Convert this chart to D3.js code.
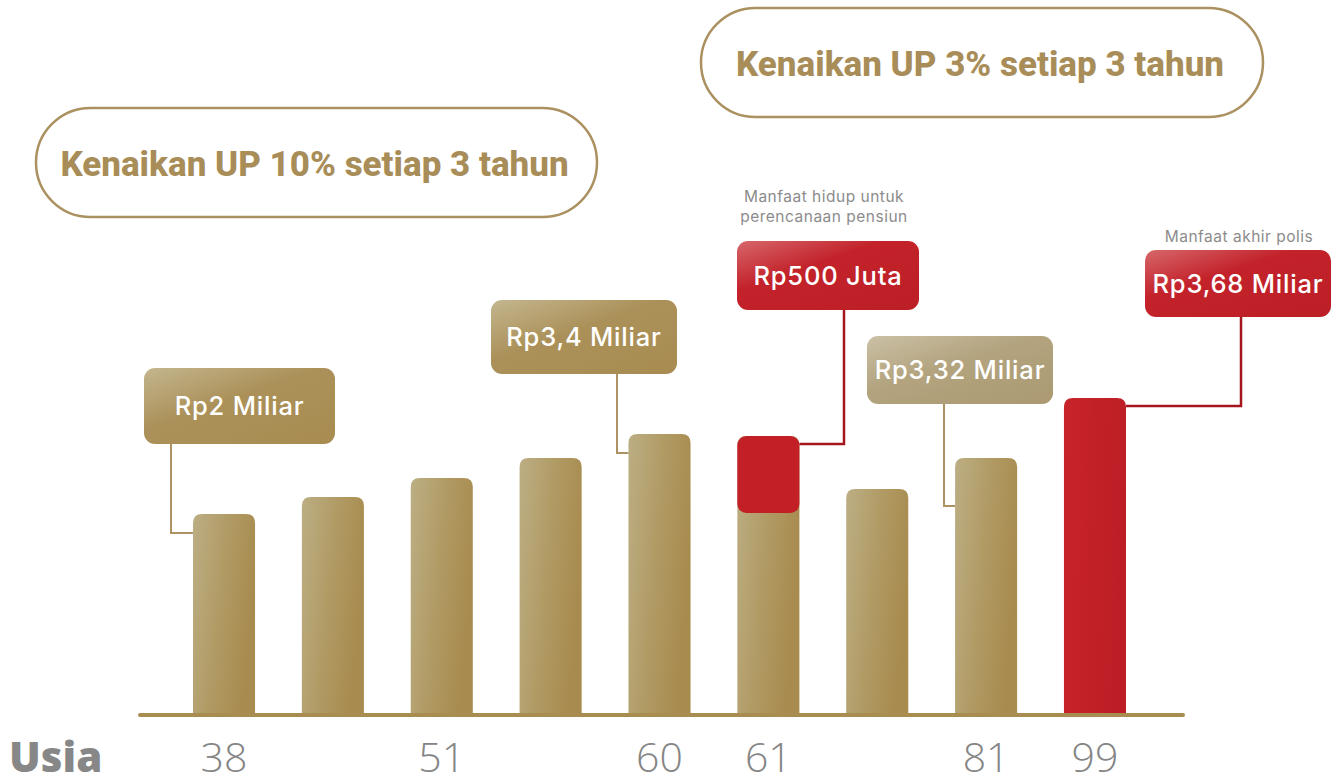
<!DOCTYPE html>
<html>
<head>
<meta charset="utf-8">
<script src="https://cdn.jsdelivr.net/npm/d3@7"></script>
<style>
  html, body { margin: 0; padding: 0; background: #fff; }
  svg { display: block; }
</style>
</head>
<body>
<svg id="chart"></svg>
<script>
// ages under the bars (blank = no label)
const ages = ['38', '', '51', '', '60', '61', '', '81', '99']
// bar heights, relative units
const barValues = [201, 218, 237, 257, 281, 279, 226, 257, 317]
const barColors = ['gold', 'gold', 'gold', 'gold', 'gold', 'gold', 'gold', 'gold', 'red']
// red payout block sitting on bar 6 (age 61)
const payoutBar = 5
const payoutLow = 202
const payoutHigh = 279

const calloutTexts = ['Rp2 Miliar', 'Rp3,4 Miliar', 'Rp500 Juta', 'Rp3,32 Miliar', 'Rp3,68 Miliar']
const calloutBars = [0, 4, 5, 7, 8]
const calloutStyles = ['gold', 'gold', 'red', 'pale', 'red']
const calloutCaptions = [[], [], ['Manfaat hidup untuk', 'perencanaan pensiun'], [], ['Manfaat akhir polis']]

const pillTexts = ['Kenaikan UP 10% setiap 3 tahun', 'Kenaikan UP 3% setiap 3 tahun']
const axisTitle = 'Usia'

const width = 1340,
    height = 783
const baseY = 715

let svg = d3.select('#chart').attr('width', width).attr('height', height)

let x = d3.scaleBand().domain(d3.range(barValues.length)).range([193, 1126]).paddingInner(0.43).paddingOuter(0)
let y = d3.scaleLinear().domain([0, 320]).range([baseY, baseY - 320])

// gradients
let defs = svg.append('defs')
function grad(id, stops, x2, y2) {
    let g = defs.append('linearGradient').attr('id', id)
        .attr('x1', 0).attr('y1', 0).attr('x2', x2).attr('y2', y2)
    stops.forEach(s => g.append('stop').attr('offset', s[0]).attr('stop-color', s[1]))
}
grad('barGold', [[0, '#bcae84'], [0.55, '#b09a63'], [1, '#a88b4f']], 1, 0.35)
grad('barRed', [[0, '#c8232a'], [1, '#bd1e25']], 1, 0.2)
grad('boxGold', [[0, '#c4b68f'], [0.45, '#ab9159'], [1, '#a88c52']], 0.9, 1)
grad('boxPale', [[0, '#cbc0a6'], [0.45, '#b3a47f'], [1, '#ab9a72']], 0.9, 1)
grad('boxRed', [[0, '#d6676a'], [0.4, '#c3222a'], [1, '#bd1f26']], 0.9, 1)

function topRounded(x0, y0, w, h, r) {
    return `M${x0},${y0 + h}V${y0 + r}Q${x0},${y0} ${x0 + r},${y0}H${x0 + w - r}Q${x0 + w},${y0} ${x0 + w},${y0 + r}V${y0 + h}Z`
}

// pills
const pillBoxes = [{ x: 36, y: 108, w: 561, h: 109 }, { x: 701, y: 8, w: 562, h: 109 }]
pillTexts.forEach((t, i) => {
    let b = pillBoxes[i]
    svg.append('rect')
        .attr('x', b.x).attr('y', b.y).attr('width', b.w).attr('height', b.h)
        .attr('rx', b.h / 2)
        .attr('fill', 'none').attr('stroke', '#ab9060').attr('stroke-width', 2.5)
    svg.append('text')
        .attr('x', b.x + b.w / 2 - 2).attr('y', b.y + 68)
        .attr('text-anchor', 'middle')
        .attr('font-family', 'Roboto, sans-serif').attr('font-weight', 800)
        .attr('font-size', 35).attr('fill', '#a88d58')
        .text(t)
})

// bars
svg.append('g').selectAll('path')
    .data(barValues)
    .join('path')
    .attr('d', (d, i) => topRounded(x(i), y(d), x.bandwidth(), baseY - y(d), 9))
    .attr('fill', (d, i) => barColors[i] === 'red' ? 'url(#barRed)' : 'url(#barGold)')

svg.append('rect')
    .attr('x', x(payoutBar)).attr('y', y(payoutHigh))
    .attr('width', x.bandwidth()).attr('height', y(payoutLow) - y(payoutHigh))
    .attr('rx', 9)
    .attr('fill', '#c21f26')

// baseline
svg.append('line')
    .attr('x1', 140).attr('x2', 1183).attr('y1', baseY).attr('y2', baseY)
    .attr('stroke', '#a98c50').attr('stroke-width', 4).attr('stroke-linecap', 'round')

// callouts: box geometry, connector x, offset below the bar top, caption gap
const calloutLayout = [
    { x: 144, y: 368, w: 191, h: 76, lineX: 171, drop: 19, capGap: 0 },
    { x: 491, y: 300, w: 186, h: 74, lineX: 617, drop: 19, capGap: 0 },
    { x: 737, y: 241, w: 182, h: 69, lineX: 844, drop: 8, capGap: 19 },
    { x: 867, y: 336, w: 186, h: 68, lineX: 944, drop: 48, capGap: 0 },
    { x: 1145, y: 250, w: 186, h: 67, lineX: 1241, drop: 8, capGap: 8 }
]
calloutTexts.forEach((t, i) => {
    let b = calloutLayout[i]
    let bi = calloutBars[i]
    let top = bi === payoutBar ? y(payoutHigh) : y(barValues[bi])
    let ay = top + b.drop
    let edge = b.lineX < x(bi) ? x(bi) : x(bi) + x.bandwidth()
    let isRed = calloutStyles[i] === 'red'
    svg.append('path')
        .attr('d', `M${b.lineX},${b.y + b.h - 2}V${ay}H${edge}`)
        .attr('fill', 'none')
        .attr('stroke', isRed ? '#a3161d' : '#ad9262')
        .attr('stroke-width', isRed ? 2.5 : 2)
    svg.append('rect')
        .attr('x', b.x).attr('y', b.y).attr('width', b.w).attr('height', b.h)
        .attr('rx', 11)
        .attr('fill', isRed ? 'url(#boxRed)' : calloutStyles[i] === 'pale' ? 'url(#boxPale)' : 'url(#boxGold)')
    svg.append('text')
        .attr('x', b.x + b.w / 2).attr('y', b.y + b.h / 2 + 9)
        .attr('text-anchor', 'middle')
        .attr('font-family', 'Inter, sans-serif').attr('font-weight', 500)
        .attr('font-size', 25.5).attr('letter-spacing', 0.8)
        .attr('fill', '#ffffff')
        .text(t)
    let caps = calloutCaptions[i]
    caps.forEach((c, j) => {
        svg.append('text')
            .attr('x', b.x + b.w / 2 + (caps.length > 1 ? -4 : 1))
            .attr('y', b.y - b.capGap - (caps.length - 1 - j) * 20)
            .attr('text-anchor', 'middle')
            .attr('font-family', 'Inter, sans-serif').attr('font-weight', 400)
            .attr('font-size', 15.5).attr('letter-spacing', 0.5).attr('fill', '#8c8c8c')
            .text(c)
    })
})

// age axis
svg.append('g').selectAll('text')
    .data(ages)
    .join('text')
    .attr('x', (d, i) => x(i) + x.bandwidth() / 2)
    .attr('y', 772)
    .attr('text-anchor', 'middle')
    .attr('font-family', '"Open Sans", sans-serif').attr('font-weight', 300)
    .attr('font-size', 41).attr('fill', '#858585')
    .text(d => d)

svg.append('text')
    .attr('x', 9).attr('y', 772)
    .attr('font-family', '"Open Sans", sans-serif').attr('font-weight', 800)
    .attr('font-size', 42).attr('fill', '#878787')
    .text(axisTitle)
</script>
</body>
</html>
